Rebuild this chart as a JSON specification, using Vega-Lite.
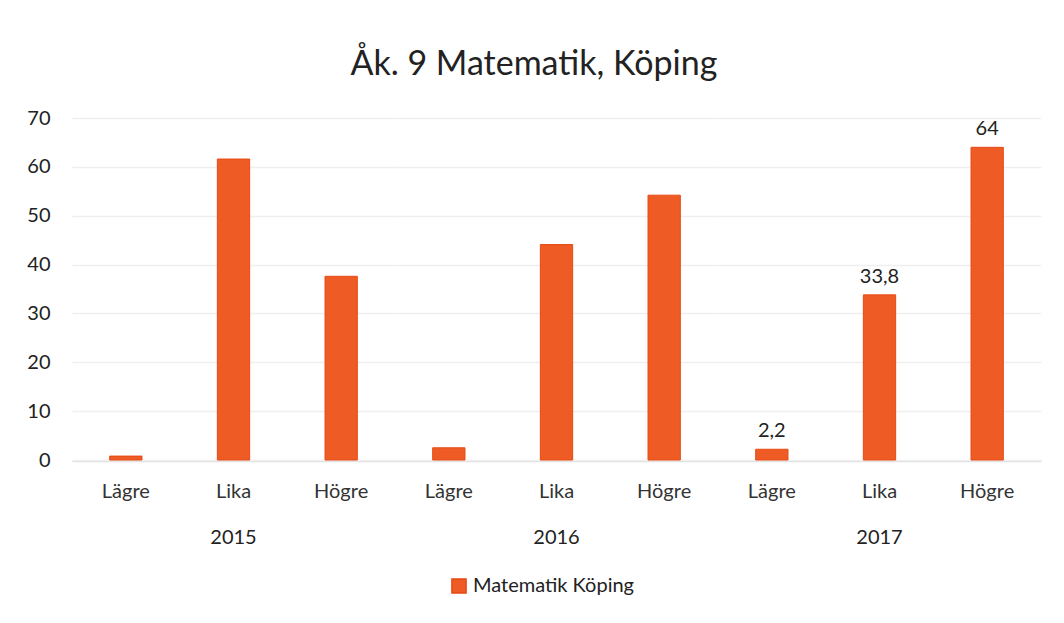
{
  "$schema": "https://vega.github.io/schema/vega-lite/v6.json",
  "padding": {"left": 26, "top": 48, "right": 15, "bottom": 5},
  "background": "white",
  "title": {"text": "Åk. 9 Matematik, Köping", "fontSize": 34, "font": "Lato", "fontWeight": "normal", "color": "#222222", "anchor": "middle", "offset": 26},
  "data": {"values": [
    {"year": "2015", "level": "Lägre", "value": 0.8, "label": "", "serie": "Matematik Köping"},
    {"year": "2015", "level": "Lika", "value": 61.6, "label": "", "serie": "Matematik Köping"},
    {"year": "2015", "level": "Högre", "value": 37.6, "label": "", "serie": "Matematik Köping"},
    {"year": "2016", "level": "Lägre", "value": 2.5, "label": "", "serie": "Matematik Köping"},
    {"year": "2016", "level": "Lika", "value": 44.1, "label": "", "serie": "Matematik Köping"},
    {"year": "2016", "level": "Högre", "value": 54.2, "label": "", "serie": "Matematik Köping"},
    {"year": "2017", "level": "Lägre", "value": 2.2, "label": "2,2", "serie": "Matematik Köping"},
    {"year": "2017", "level": "Lika", "value": 33.8, "label": "33,8", "serie": "Matematik Köping"},
    {"year": "2017", "level": "Högre", "value": 64, "label": "64", "serie": "Matematik Köping"}
  ]},
  "facet": {"column": {"field": "year", "type": "nominal", "header": {"title": null, "labelOrient": "bottom", "labelFontSize": 20, "labelFont": "Lato", "labelColor": "#222222", "labelPadding": 27}}},
  "spacing": 0,
  "spec": {
    "width": 323,
    "height": 342,
    "layer": [
      {
        "mark": {"type": "bar", "stroke": "#E64A14", "strokeWidth": 1},
        "encoding": {
          "x": {"field": "level", "type": "nominal", "sort": ["Lägre", "Lika", "Högre"], "scale": {"paddingInner": 0.7, "paddingOuter": 0.35}, "title": null,
            "axis": {"labelAngle": 0, "labelFontSize": 20, "labelFont": "Lato", "labelColor": "#333333", "labelPadding": 20, "ticks": false, "domainColor": "#e0e0e0", "domainWidth": 1.5}},
          "y": {"field": "value", "type": "quantitative", "scale": {"domain": [0, 70]}, "title": null,
            "axis": {"values": [0, 10, 20, 30, 40, 50, 60, 70], "labelFontSize": 20, "labelFont": "Lato", "labelColor": "#222222", "labelPadding": 22, "ticks": false, "domain": false, "gridColor": "#efefef", "gridWidth": 1.5}},
          "color": {"field": "serie", "type": "nominal", "scale": {"range": ["#EF5B25"]}, "title": null,
            "legend": {"orient": "none", "legendX": 377, "legendY": 458, "symbolType": "square", "symbolSize": 200, "labelFontSize": 20, "labelFont": "Lato", "labelColor": "#222222", "labelLimit": 400}}
        }
      },
      {
        "mark": {"type": "text", "dy": -18, "fontSize": 20, "font": "Lato", "color": "#222222"},
        "encoding": {
          "x": {"field": "level", "type": "nominal", "sort": ["Lägre", "Lika", "Högre"]},
          "y": {"field": "value", "type": "quantitative"},
          "text": {"field": "label"},
          "fontWeight": {"condition": {"test": "datum.label == '64'", "value": "bold"}, "value": "normal"}
        }
      }
    ]
  },
  "config": {"view": {"stroke": null}}
}
